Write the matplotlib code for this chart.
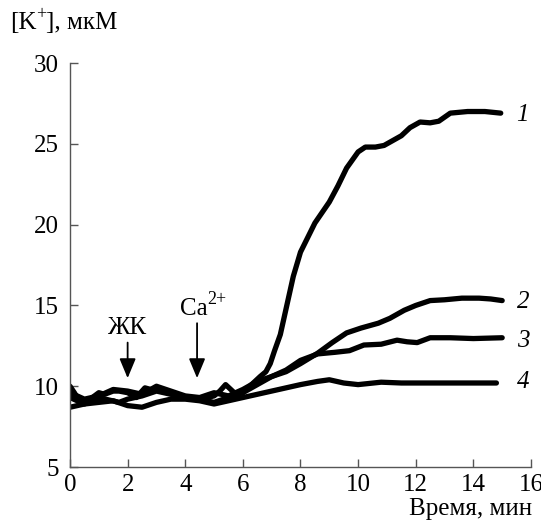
import matplotlib.pyplot as plt
import numpy as np

plt.rcParams['font.family'] = ['Liberation Serif', 'DejaVu Serif']

# curve 1
t1 = [0, 0.15, 0.35, 0.7, 1.0, 1.2, 1.5, 1.7, 2.0, 2.3, 2.6, 2.8, 3.2, 3.6, 4.0, 4.5, 5.0, 5.2, 5.4, 5.7, 6.0, 6.3,
      6.6, 6.8, 6.95, 7.1, 7.3, 7.55, 7.75, 8.0, 8.5, 9.0, 9.3, 9.6, 10.0, 10.25, 10.6, 10.9,
      11.2, 11.5, 11.8, 12.15, 12.5, 12.8, 13.2, 13.8, 14.4, 14.95]
k1 = [10.0, 9.6, 9.0, 9.2, 9.6, 9.5, 9.7, 9.7, 9.6, 9.3, 9.9, 9.8, 9.7, 9.5, 9.3, 9.2, 9.4, 9.7, 10.1, 9.6, 9.6, 10.1,
      10.6, 10.9, 11.4, 12.2, 13.2, 15.2, 16.8, 18.3, 20.1, 21.4, 22.4, 23.5, 24.5, 24.8, 24.8, 24.9,
      25.2, 25.5, 26.0, 26.35, 26.3, 26.4, 26.9, 27.0, 27.0, 26.9]

# curve 2
t2 = [0, 0.5, 1.0, 1.5, 2.0, 2.5, 3.0, 3.5, 4.0, 4.5, 5.0, 5.5, 6.0, 6.5, 7.0, 7.5, 8.0, 8.6,
      9.1, 9.6, 10.1, 10.7, 11.1, 11.6, 12.0, 12.5, 13.0, 13.6, 14.2, 14.6, 15.0]
k2 = [9.6, 9.2, 9.4, 9.8, 9.7, 9.5, 10.0, 9.7, 9.4, 9.3, 9.6, 9.4, 9.8, 10.3, 10.6, 10.9, 11.4, 12.05,
      12.7, 13.3, 13.6, 13.9, 14.2, 14.7, 15.0, 15.3, 15.35, 15.45, 15.45, 15.4, 15.3]

# curve 3
t3 = [0, 0.5, 1.0, 1.7, 2.0, 2.5, 3.0, 3.5, 4.2, 5.0, 5.5, 6.0, 6.6, 7.0, 7.5, 8.0, 8.6, 9.2,
      9.7, 10.2, 10.8, 11.35, 11.7, 12.05, 12.5, 13.2, 14.0, 15.0]
k3 = [9.3, 8.9, 9.3, 9.0, 9.2, 9.4, 9.7, 9.5, 9.3, 9.0, 9.3, 9.6, 10.2, 10.6, 11.0, 11.6, 12.0, 12.1,
      12.2, 12.55, 12.6, 12.85, 12.75, 12.7, 13.0, 13.0, 12.95, 13.0]

# curve 4
t4 = [0, 0.5, 1.0, 1.5, 2.0, 2.5, 3.0, 3.5, 4.0, 4.5, 5.0, 5.5, 6.0, 6.5, 7.0, 7.5, 8.0, 8.6,
      9.0, 9.5, 10.0, 10.8, 11.5, 12.5, 13.5, 14.8]
k4 = [8.7, 8.9, 9.0, 9.1, 8.8, 8.7, 9.0, 9.2, 9.2, 9.1, 8.9, 9.1, 9.3, 9.5, 9.7, 9.9, 10.1, 10.3,
      10.4, 10.2, 10.1, 10.25, 10.2, 10.2, 10.2, 10.2]

curves = [(t1, k1, '1'), (t2, k2, '2'), (t3, k3, '3'), (t4, k4, '4')]
label_y = [26.8, 15.2, 12.8, 10.25]

fig = plt.figure(figsize=(5.41, 5.21), dpi=100)
ax = fig.add_axes([0.1294, 0.1036, 0.8521, 0.7754])

for (t, k, name), ly in zip(curves, label_y):
    ax.plot(t, k, color='black', lw=3.8, solid_joinstyle='round', solid_capstyle='round')
    ax.text(15.5, ly, name, fontsize=18, style='italic', va='center', ha='left')

# arrows with labels
arrow = dict(arrowstyle='-|>,head_length=0.6,head_width=0.25', color='black', lw=1.3,
             shrinkA=0, shrinkB=0, mutation_scale=20)
ax.annotate('', xy=(2.0, 10.5), xytext=(2.0, 12.7), arrowprops=arrow)
ax.annotate('', xy=(4.41, 10.5), xytext=(4.41, 13.9), arrowprops=arrow)
ax.text(1.95, 13.6, 'ЖК', fontsize=18, ha='center', va='center')
ca = ax.text(4.3, 14.75, 'Ca', fontsize=18, ha='center', va='center')
ax.annotate('2+', xy=(1.0, 0.55), xycoords=ca, fontsize=13, ha='left', va='bottom')

ax.set_xlim(0, 16)
ax.set_ylim(5, 30)
ax.set_xticks(np.arange(0, 17, 2))
ax.set_yticks(np.arange(5, 31, 5))
ax.spines['top'].set_visible(False)
ax.spines['right'].set_visible(False)
for s in ['left', 'bottom']:
    ax.spines[s].set_color('#555555')
    ax.spines[s].set_linewidth(1.0)
ax.tick_params(direction='in', length=6, width=1, color='#555555', labelsize=18)
ax.tick_params(axis='y', pad=8)
ax.tick_params(axis='x', pad=5)

# y label "[K+], мкМ" built from pieces so the superscript sits like the original
yl = fig.text(0.018, 0.955, '[K', fontsize=18, ha='left', va='center')
sup = fig.add_artist(plt.Annotation('+', xy=(1.0, 0.5), xycoords=yl, fontsize=13,
                                    ha='left', va='bottom'))
fig.add_artist(plt.Annotation('], мкМ', xy=(1.0, 0.0), xycoords=(sup, yl), fontsize=18,
                              ha='left', va='bottom'))
fig.text(0.983, 0.002, 'Время, мин', fontsize=18, ha='right', va='bottom')

fig.savefig('out.png', dpi=100)
